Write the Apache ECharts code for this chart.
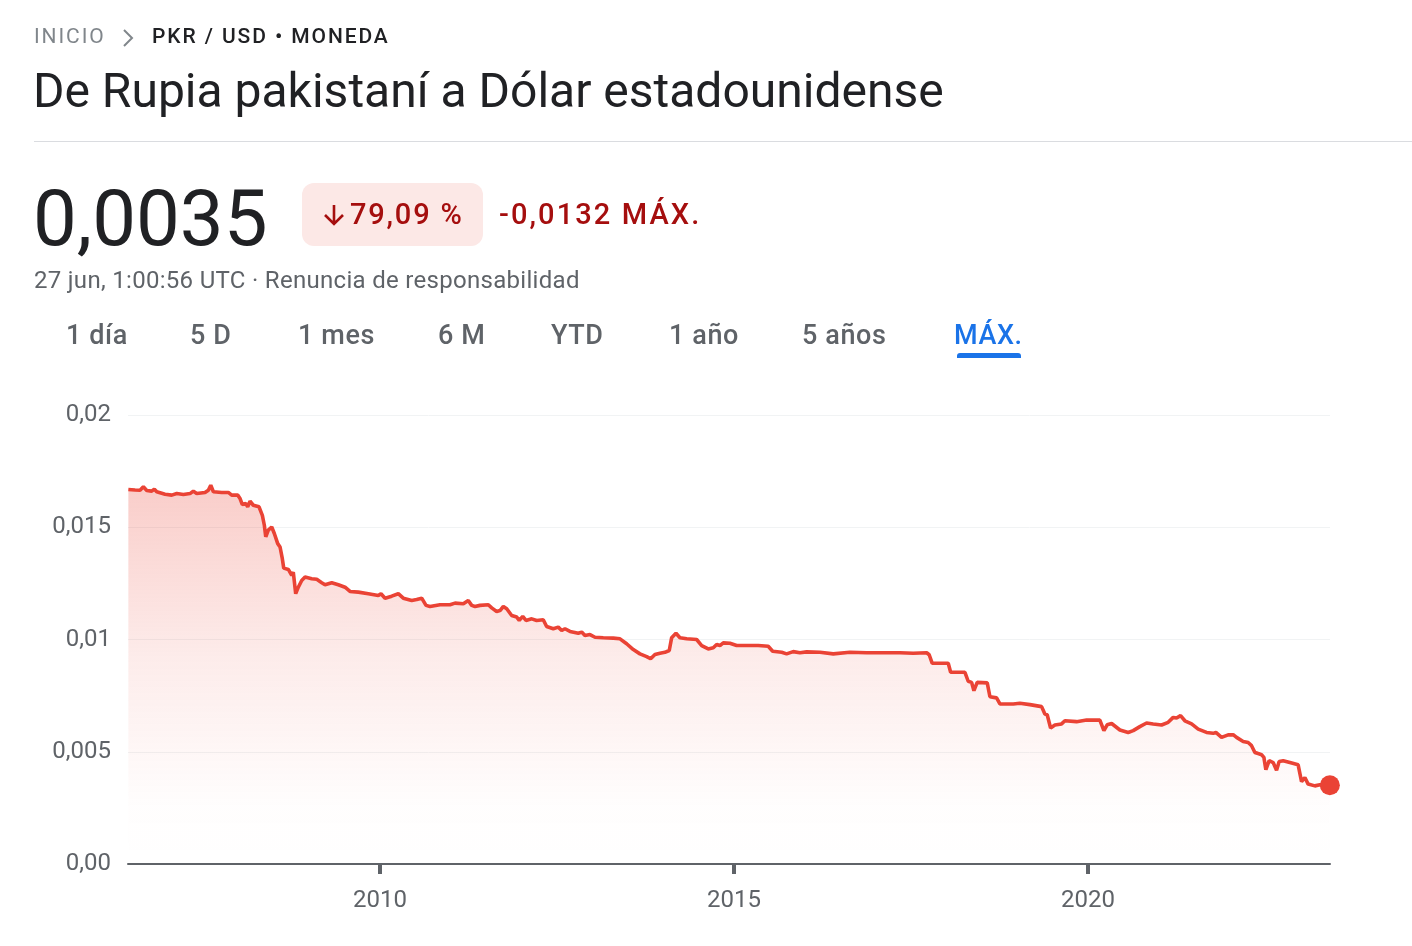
<!DOCTYPE html>
<html>
<head>
<meta charset="utf-8">
<script src="https://cdn.jsdelivr.net/npm/echarts@6/dist/echarts.min.js"></script>
<style>
  html, body { margin:0; padding:0; background:#fff; width:1412px; height:946px; overflow:hidden; font-family: Roboto, "Noto Sans", sans-serif; }
  #chart { position:absolute; left:0; top:0; width:1412px; height:946px; }
  .t { position:absolute; white-space:nowrap; z-index:2; }
  #crumb { left:34px; top:24px; font-size:21px; letter-spacing:1.9px; font-weight:400; color:#80868b; }
  #chev { position:absolute; left:122px; top:28px; z-index:2; }
  #crumb2 { left:152px; top:24px; font-size:21px; letter-spacing:1.9px; font-weight:500; color:#202124; }
  #title { left:33px; top:62px; font-size:48px; color:#202124; font-weight:400; }
  #rule { position:absolute; left:34px; top:141px; width:1378px; height:1px; background:#dadce0; }
  #price { left:33px; top:173px; font-size:78px; color:#202124; font-weight:400; }
  #badge { left:302px; top:183px; width:181px; height:63px; background:#fce8e6; border-radius:12px; }
  #arrow { position:absolute; left:322px; top:203px; z-index:3; }
  #pct { left:350px; top:197px; font-size:29px; color:#a50e0e; font-weight:500; letter-spacing:1.8px; }
  #chg { left:499px; top:197px; font-size:29px; color:#a50e0e; font-weight:500; letter-spacing:2.1px; }
  #stamp { left:34px; top:266px; font-size:24px; color:#5f6368; letter-spacing:0.3px; }
  .tab { position:absolute; top:319px; font-size:27px; color:#5f6368; font-weight:500; z-index:2; white-space:nowrap; letter-spacing:0.6px; }
  #ul { position:absolute; left:957px; top:353px; width:64px; height:5px; background:#1a73e8; border-radius:3px 3px 0 0; z-index:2; }
</style>
</head>
<body>
<div id="chart"></div>
<div class="t" id="crumb">INICIO</div>
<svg id="chev" width="12" height="20" viewBox="0 0 12 20"><path d="M2 2 L10 10 L2 18" fill="none" stroke="#80868b" stroke-width="2"/></svg>
<div class="t" id="crumb2">PKR / USD • MONEDA</div>
<div class="t" id="title">De Rupia pakistaní a Dólar estadounidense</div>
<div id="rule"></div>
<div class="t" id="price">0,0035</div>
<div class="t" id="badge"></div>
<svg id="arrow" width="24" height="24" viewBox="0 0 24 24"><path d="M12 2 L12 21 M3 12 L12 21 L21 12" fill="none" stroke="#a50e0e" stroke-width="2.6" stroke-linejoin="miter"/></svg>
<div class="t" id="pct">79,09 %</div>
<div class="t" id="chg">-0,0132 MÁX.</div>
<div class="t" id="stamp">27 jun, 1:00:56 UTC · Renuncia de responsabilidad</div>
<div class="tab" style="left:66px">1 día</div>
<div class="tab" style="left:190px">5 D</div>
<div class="tab" style="left:298px">1 mes</div>
<div class="tab" style="left:438px">6 M</div>
<div class="tab" style="left:551px">YTD</div>
<div class="tab" style="left:669px">1 año</div>
<div class="tab" style="left:802px">5 años</div>
<div class="tab" style="left:954px;color:#1a73e8">MÁX.</div>
<div id="ul"></div>
<script>
// Decimal year of each reading
const years = [
  2006.445,2006.540,2006.610,2006.657,2006.705,2006.775,2006.812,2006.846,2006.963,2007.058,
  2007.129,2007.222,2007.316,2007.363,2007.411,2007.528,2007.575,2007.609,2007.646,2007.764,
  2007.857,2007.905,2007.990,2008.023,2008.055,2008.103,2008.131,2008.164,2008.210,2008.291,
  2008.338,2008.366,2008.386,2008.422,2008.470,2008.507,2008.555,2008.588,2008.620,2008.640,
  2008.705,2008.753,2008.775,2008.809,2008.846,2008.894,2008.941,2009.035,2009.106,2009.177,
  2009.223,2009.318,2009.411,2009.506,2009.576,2009.694,2009.835,2009.976,2010.014,2010.071,
  2010.165,2010.258,2010.329,2010.448,2010.518,2010.589,2010.650,2010.706,2010.847,2010.989,
  2011.059,2011.177,2011.247,2011.295,2011.342,2011.412,2011.530,2011.578,2011.648,2011.695,
  2011.742,2011.790,2011.860,2011.931,2011.967,2012.016,2012.062,2012.143,2012.213,2012.306,
  2012.354,2012.448,2012.518,2012.566,2012.613,2012.684,2012.801,2012.849,2012.895,2012.966,
  2013.037,2013.154,2013.295,2013.390,2013.484,2013.578,2013.672,2013.767,2013.823,2013.884,
  2013.955,2014.025,2014.086,2014.120,2014.181,2014.237,2014.332,2014.473,2014.544,2014.637,
  2014.708,2014.756,2014.802,2014.849,2014.943,2015.038,2015.179,2015.343,2015.484,2015.547,
  2015.674,2015.744,2015.837,2015.932,2016.027,2016.215,2016.403,2016.638,2016.874,2017.109,
  2017.344,2017.532,2017.722,2017.758,2017.801,2017.909,2018.027,2018.061,2018.263,2018.309,
  2018.357,2018.390,2018.436,2018.578,2018.616,2018.710,2018.757,2018.945,2019.039,2019.181,
  2019.346,2019.392,2019.425,2019.473,2019.534,2019.628,2019.675,2019.840,2019.982,2020.169,
  2020.226,2020.272,2020.335,2020.452,2020.569,2020.640,2020.734,2020.829,2020.922,2021.041,
  2021.134,2021.205,2021.253,2021.309,2021.370,2021.465,2021.558,2021.676,2021.770,2021.808,
  2021.888,2021.981,2022.052,2022.100,2022.193,2022.264,2022.312,2022.359,2022.405,2022.453,
  2022.486,2022.514,2022.561,2022.617,2022.665,2022.702,2022.759,2022.853,2022.970,2023.018,
  2023.065,2023.111,2023.206,2023.277,2023.418
];
// PKR -> USD rate at each reading
const rates = [
  0.01668,0.01666,0.01665,0.01680,0.01664,0.01661,0.01670,0.01658,0.01647,0.01643,
  0.01650,0.01646,0.01650,0.01661,0.01650,0.01655,0.01665,0.01687,0.01658,0.01655,
  0.01655,0.01643,0.01643,0.01628,0.01601,0.01606,0.01591,0.01616,0.01598,0.01591,
  0.01553,0.01509,0.01457,0.01487,0.01501,0.01472,0.01427,0.01412,0.01360,0.01318,
  0.01312,0.01286,0.01300,0.01204,0.01233,0.01263,0.01278,0.01271,0.01268,0.01253,
  0.01244,0.01253,0.01244,0.01233,0.01214,0.01211,0.01204,0.01196,0.01204,0.01184,
  0.01193,0.01204,0.01184,0.01174,0.01178,0.01184,0.01152,0.01147,0.01155,0.01155,
  0.01162,0.01159,0.01174,0.01152,0.01147,0.01152,0.01155,0.01141,0.01125,0.01129,
  0.01147,0.01137,0.01107,0.01100,0.01085,0.01103,0.01085,0.01092,0.01085,0.01088,
  0.01058,0.01048,0.01055,0.01040,0.01048,0.01036,0.01028,0.01033,0.01018,0.01022,
  0.01010,0.01008,0.01006,0.01003,0.00981,0.00955,0.00936,0.00924,0.00914,0.00933,
  0.00939,0.00943,0.00951,0.01008,0.01028,0.01008,0.01003,0.01000,0.00973,0.00958,
  0.00963,0.00978,0.00973,0.00985,0.00983,0.00973,0.00973,0.00973,0.00970,0.00948,
  0.00943,0.00936,0.00946,0.00941,0.00945,0.00943,0.00936,0.00943,0.00941,0.00941,
  0.00941,0.00939,0.00941,0.00932,0.00894,0.00894,0.00894,0.00854,0.00854,0.00814,
  0.00809,0.00772,0.00809,0.00807,0.00745,0.00740,0.00713,0.00713,0.00716,0.00710,
  0.00701,0.00668,0.00665,0.00606,0.00619,0.00624,0.00638,0.00634,0.00641,0.00641,
  0.00594,0.00620,0.00626,0.00597,0.00586,0.00594,0.00612,0.00628,0.00624,0.00619,
  0.00631,0.00653,0.00650,0.00661,0.00638,0.00624,0.00601,0.00586,0.00582,0.00586,
  0.00564,0.00575,0.00576,0.00564,0.00546,0.00541,0.00527,0.00497,0.00492,0.00487,
  0.00475,0.00420,0.00460,0.00452,0.00418,0.00457,0.00460,0.00452,0.00442,0.00367,
  0.00385,0.00356,0.00348,0.00353,0.00351
];
const xTickYears = [2010, 2015, 2020];
const yMin = 0, yMax = 0.02, yStep = 0.005;
const xMin = 2006.44, xMax = 2023.42;

const lineData = years.map((y, i) => [y, rates[i]]);
const lastPoint = [[years[years.length - 1], rates[rates.length - 1]]];

const chart = echarts.init(document.getElementById('chart'), null, { renderer: 'canvas' });
chart.setOption({
  animation: false,
  grid: { left: 128, right: 82, top: 415, bottom: 82 },
  xAxis: {
    type: 'value', min: xMin, max: xMax,
    axisLine: { show: true, lineStyle: { color: '#5f6368', width: 2 } },
    axisTick: { show: true, customValues: xTickYears, length: 10, lineStyle: { color: '#5f6368', width: 4 } },
    axisLabel: { customValues: xTickYears, formatter: v => String(Math.round(v)), color: '#5f6368', fontSize: 24, fontFamily: 'Roboto', margin: 25 },
    splitLine: { show: false }
  },
  yAxis: {
    type: 'value', min: yMin, max: yMax, interval: yStep,
    axisLine: { show: false }, axisTick: { show: false },
    axisLabel: {
      formatter: v => v === 0 ? '0,00' : String(+v.toFixed(4)).replace('.', ','),
      color: '#5f6368', fontSize: 24, fontFamily: 'Roboto', margin: 17, padding: [4, 0, 0, 0]
    },
    splitLine: { lineStyle: { color: '#f1f3f4', width: 1 } }
  },
  series: [
    {
      type: 'line', data: lineData, showSymbol: false, symbol: 'none',
      lineStyle: { color: '#ea4335', width: 3.6 },
      areaStyle: {
        color: new echarts.graphic.LinearGradient(0, 0, 0, 1, [
          { offset: 0, color: 'rgba(234,67,53,0.38)' },
          { offset: 0.45, color: 'rgba(234,67,53,0.15)' },
          { offset: 0.85, color: 'rgba(234,67,53,0.01)' },
          { offset: 1, color: 'rgba(234,67,53,0)' }
        ])
      },
      z: 2
    },
    {
      type: 'scatter', data: lastPoint, symbolSize: 20,
      itemStyle: { color: '#ea4335', opacity: 1 }, z: 3
    }
  ]
});
</script>
</body>
</html>
